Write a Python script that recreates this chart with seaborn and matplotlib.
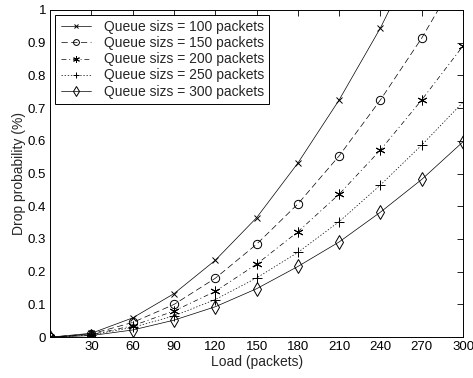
import numpy as np
import pandas as pd
import matplotlib
matplotlib.use("Agg")
import matplotlib.pyplot as plt
import seaborn as sns

load = [0, 30, 60, 90, 120, 150, 180, 210, 240, 270, 300]
q100 = [0, 0.012, 0.059, 0.133, 0.235, 0.365, 0.532, 0.725, 0.945, 1.20, 1.48]
q150 = [0, 0.010, 0.045, 0.100, 0.180, 0.284, 0.407, 0.554, 0.725, 0.914, 1.13]
q200 = [0, 0.008, 0.035, 0.080, 0.140, 0.223, 0.322, 0.437, 0.572, 0.725, 0.890]
q250 = [0, 0.007, 0.030, 0.065, 0.115, 0.181, 0.259, 0.353, 0.465, 0.587, 0.718]
q300 = [0, 0.005, 0.022, 0.052, 0.093, 0.148, 0.216, 0.291, 0.382, 0.482, 0.597]
labels = ["Queue sizs = 100 packets", "Queue sizs = 150 packets",
          "Queue sizs = 200 packets", "Queue sizs = 250 packets",
          "Queue sizs = 300 packets"]

sns.set_style("white")
plt.rcParams['font.family'] = ['Liberation Sans', 'DejaVu Sans']
plt.rcParams['font.size'] = 9

df = pd.DataFrame({"load": load * 5,
                   "prob": q100 + q150 + q200 + q250 + q300,
                   "series": sum([[l] * len(load) for l in labels], [])})

# marker, linestyle, markersize
styles = [("x", "-", 4.5), ("o", (0, (9, 5)), 6), ((6, 2, 0), (0, (7, 4, 1.5, 4)), 7),
          ("+", (0, (2, 2.5)), 7), ("d", "-", 7)]

fig, ax = plt.subplots(figsize=(4.73, 3.78), dpi=100)
for lab, (mk, ls, ms) in zip(labels, styles):
    sub = df[df["series"] == lab]
    sns.lineplot(data=sub, x="load", y="prob", ax=ax, color="black",
                 linewidth=0.5, linestyle=ls, marker=mk, markersize=ms,
                 markerfacecolor="none", markeredgecolor="black",
                 markeredgewidth=0.7, label=lab)

ax.set_xlim(0, 300)
ax.set_ylim(0, 1)
ax.set_xticks(load[1:])
ax.set_yticks(np.arange(0, 1.01, 0.1))
ax.set_yticklabels(["0", "0.1", "0.2", "0.3", "0.4", "0.5", "0.6", "0.7", "0.8", "0.9", "1"])
ax.tick_params(direction="in", length=4, width=0.6, top=True, right=True,
               labelsize=9.5, pad=3, colors="black")
for s in ax.spines.values():
    s.set_color("black")
    s.set_linewidth(0.7)
ax.set_xlabel("Load (packets)", fontsize=10, labelpad=1)
ax.set_ylabel("Drop probability (%)", fontsize=10, labelpad=1)

leg = ax.legend(loc="upper left", fontsize=10, fancybox=False, framealpha=1,
                edgecolor="black", handlelength=2.2, borderaxespad=0.35,
                labelspacing=0.15, handletextpad=0.9, markerscale=0.7,
                borderpad=0.4)
leg.get_frame().set_linewidth(0.7)

fig.subplots_adjust(left=0.106, right=0.979, top=0.974, bottom=0.108)
fig.savefig("out.png", dpi=100)
